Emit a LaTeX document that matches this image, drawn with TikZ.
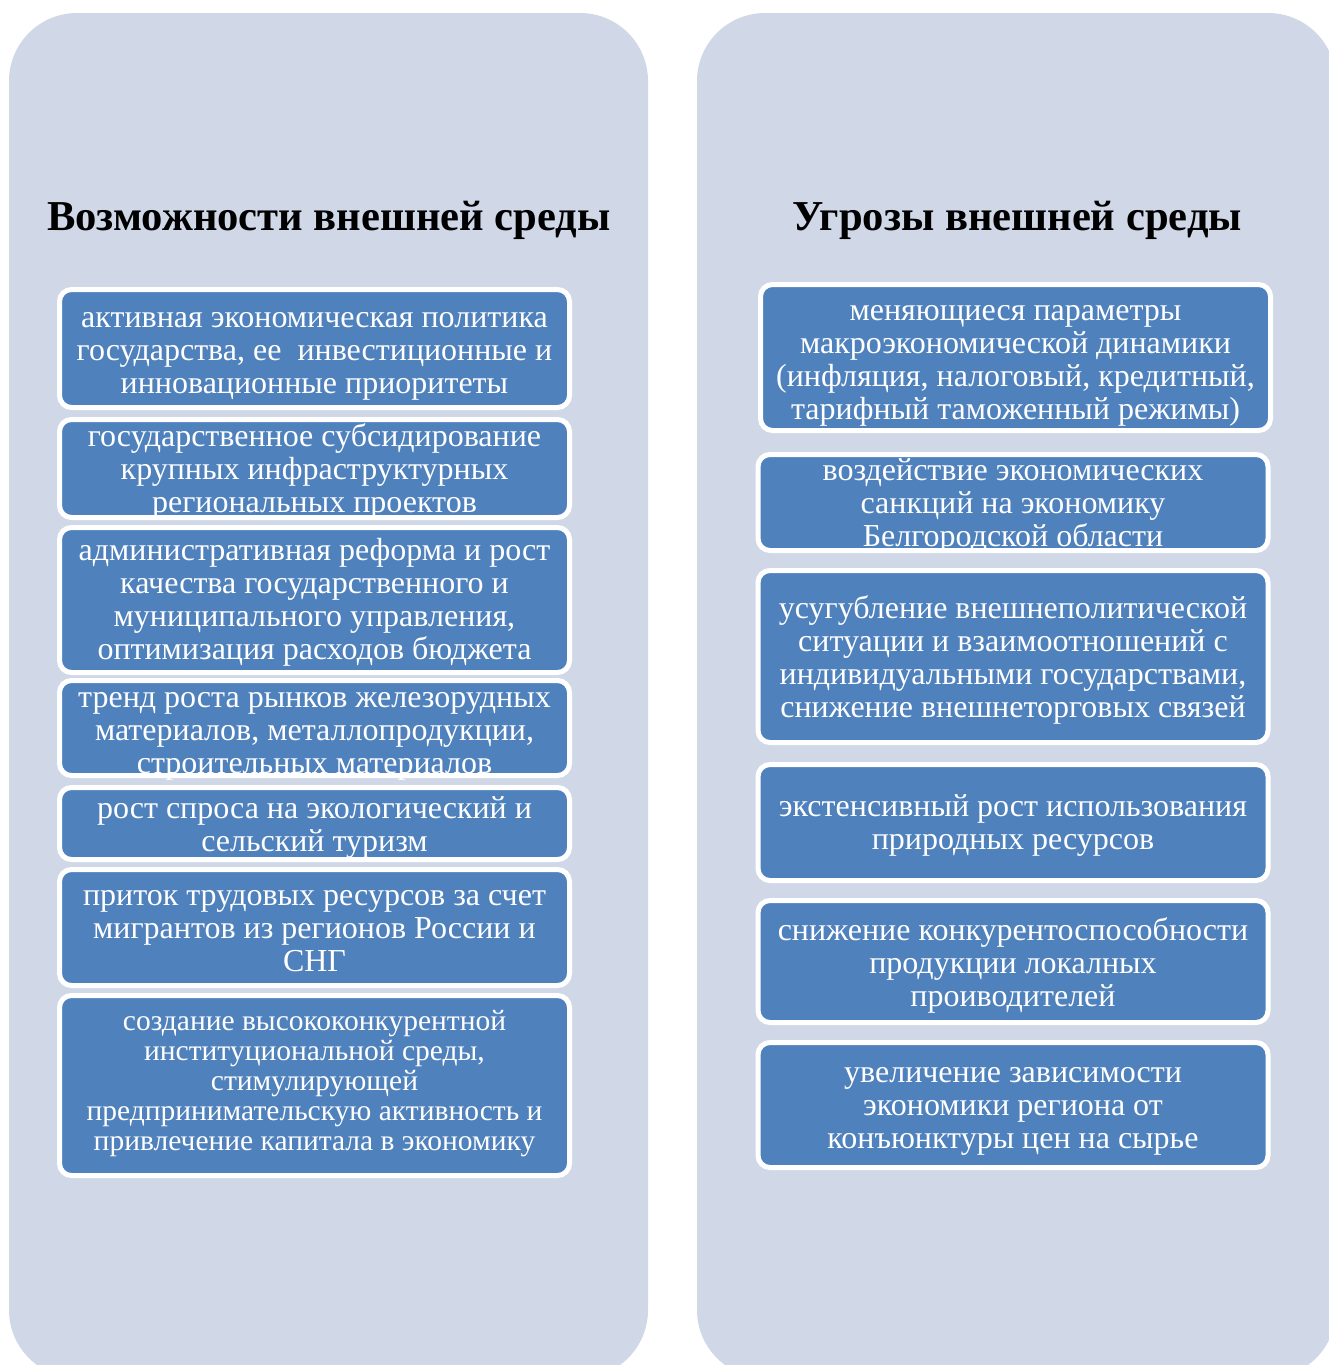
\documentclass[tikz,border=0pt]{standalone}
\usepackage{fontspec}
\setmainfont{Liberation Serif}
\definecolor{panelbg}{HTML}{D0D8E8}
\definecolor{boxblue}{HTML}{4F81BD}
\tikzset{
  panel/.style={fill=panelbg, draw=none, rounded corners=68pt},
  itembox/.style={fill=boxblue, draw=white, line width=5pt, rounded corners=12pt,
    inner sep=0pt, minimum width=510pt},
  itemtext/.style={text=white, align=center, inner sep=0pt,
    font=\fontsize{32}{33}\selectfont},
  smalltext/.style={itemtext, font=\fontsize{29.5}{30.2}\selectfont},
  heading/.style={anchor=base, font=\fontsize{42.6}{50}\selectfont\bfseries, text=black, inner sep=0pt}
}
\begin{document}
\begin{tikzpicture}[x=1pt,y=-1pt]
\path[use as bounding box] (0,0) rectangle (1329,1365);
\clip (0,0) rectangle (1329,1365);
\fill[panel] (9,13) rectangle (648,1378);
\fill[panel] (697,13) rectangle (1336,1378);

\node[heading] (hl) at (329,230) {Возможности внешней среды};
\node[heading] (hr) at (1017,230) {Угрозы внешней среды};

% left column boxes
\node[itembox, minimum height=118pt] (o1) at (314.5,348.5) {};
\node[itembox, minimum height=98pt] (o2) at (314.5,468.5) {};
\node[itembox, minimum height=145pt] (o3) at (314.5,600) {};
\node[itembox, minimum height=95pt] (o4) at (314.5,728) {};
\node[itembox, minimum height=72pt] (o5) at (314.5,823.5) {};
\node[itembox, minimum height=116pt] (o6) at (314.5,927.5) {};
\node[itembox, minimum height=180pt] (o7) at (314.5,1085.5) {};

\node[itemtext, yshift=-8pt] (o1t) at (o1.center) {активная экономическая политика\\государства, ее\ \ инвестиционные и\\инновационные приоритеты};
\node[itemtext, yshift=-3pt] (o2t) at (o2.center) {государственное субсидирование\\крупных инфраструктурных\\региональных проектов};
\node[itemtext, yshift=-2pt] (o3t) at (o3.center) {административная реформа и рост\\качества государственного и\\муниципального управления,\\оптимизация расходов бюджета};
\node[itemtext, yshift=-8pt] (o4t) at (o4.center) {тренд роста рынков железорудных\\материалов, металлопродукции,\\строительных материалов};
\node[itemtext, yshift=-4pt] (o5t) at (o5.center) {рост спроса на экологический и\\сельский туризм};
\node[itemtext, yshift=-4pt] (o6t) at (o6.center) {приток трудовых ресурсов за счет\\мигрантов из регионов России и\\СНГ};
\node[smalltext, yshift=2pt] (o7t) at (o7.center) {создание высококонкурентной\\институциональной среды,\\стимулирующей\\предпринимательскую активность и\\привлечение капитала в экономику};

% right column boxes
\node[itembox, minimum height=146pt] (t1) at (1015.5,357.5) {};
\node[itembox, minimum height=96pt] (t2) at (1013,502.5) {};
\node[itembox, minimum height=172pt] (t3) at (1013,656.5) {};
\node[itembox, minimum height=116pt] (t4) at (1013,822.5) {};
\node[itembox, minimum height=122pt] (t5) at (1013,961.5) {};
\node[itembox, minimum height=125pt] (t6) at (1013,1105) {};

\node[itemtext, yshift=-8pt] (t1t) at (t1.center) {меняющиеся параметры\\макроэкономической динамики\\(инфляция, налоговый, кредитный,\\тарифный таможенный режимы)};
\node[itemtext, yshift=-3pt] (t2t) at (t2.center) {воздействие экономических\\санкций на экономику\\Белгородской области};
\node[itemtext, yshift=-3pt] (t3t) at (t3.center) {усугубление внешнеполитической\\ситуации и взаимоотношений с\\индивидуальными государствами,\\снижение внешнеторговых связей};
\node[itemtext, yshift=-3pt] (t4t) at (t4.center) {экстенсивный рост использования\\природных ресурсов};
\node[itemtext, yshift=-4pt] (t5t) at (t5.center) {снижение конкурентоспособности\\продукции локалных\\проиводителей};
\node[itemtext, yshift=-6pt] (t6t) at (t6.center) {увеличение зависимости\\экономики региона от\\конъюнктуры цен на сырье};
\end{tikzpicture}
\end{document}
